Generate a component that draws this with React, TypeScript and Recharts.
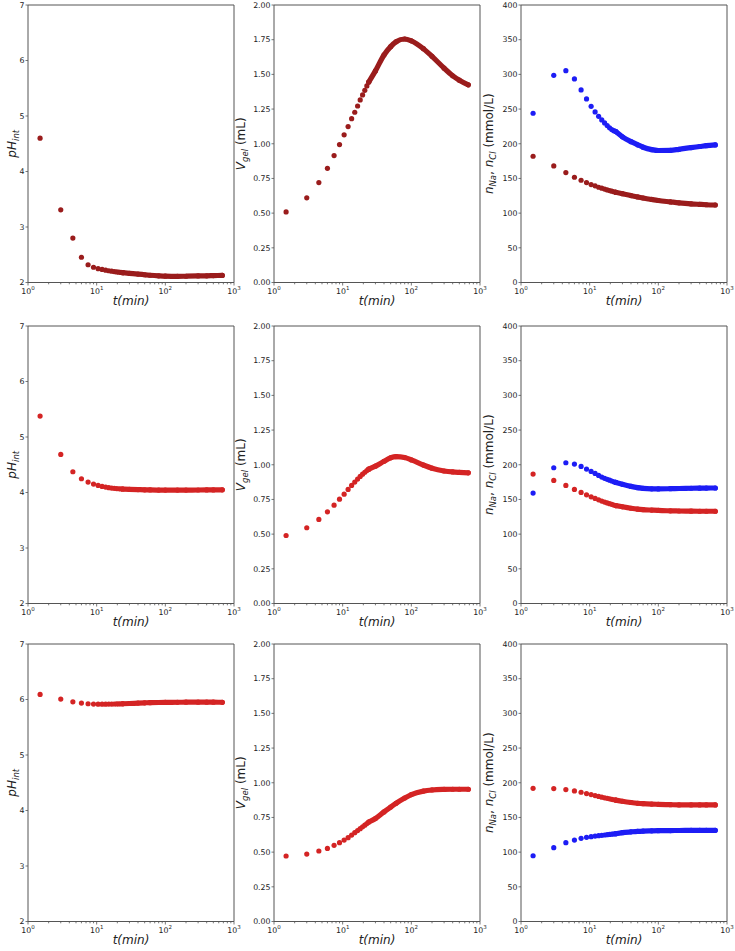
import { ScatterChart, Scatter, XAxis, YAxis, ReferenceArea } from 'recharts'

// sampling times (min): sparse early samples, then the dense tail read as a curve
const T_DOTS = [1.5, 3, 4.5, 6, 7.5, 9, 10.5, 12, 13.5, 15, 16.5, 18, 19.5, 21, 22.5, 24]
const T_CURVE = [24, 30, 40, 50, 60, 80, 100, 150, 200, 300, 400, 500, 675]

// row 1
const PH1_DOTS = [4.6, 3.31, 2.8, 2.455, 2.32, 2.275, 2.25, 2.235, 2.222, 2.212, 2.204, 2.197, 2.191, 2.186, 2.181, 2.177]
const PH1_CURVE = [2.177, 2.166, 2.152, 2.14, 2.131, 2.12, 2.114, 2.111, 2.113, 2.118, 2.121, 2.124, 2.128]
const V1_DOTS = [0.509, 0.61, 0.72, 0.823, 0.915, 0.994, 1.064, 1.124, 1.181, 1.227, 1.272, 1.316, 1.352, 1.385, 1.417, 1.445]
const V1_CURVE = [1.445, 1.525, 1.64, 1.7, 1.735, 1.755, 1.742, 1.685, 1.63, 1.545, 1.49, 1.458, 1.425]
const NA1_DOTS = [244, 298.7, 305.4, 293.4, 277.6, 264.6, 254, 245.9, 239.6, 234.3, 230, 226.2, 223, 220.5, 218.8, 217.5]
const NA1_CURVE = [217.5, 210, 203, 198.5, 195, 191.5, 190.3, 190.5, 192, 194.5, 196, 197.2, 198.3]
const CL1_DOTS = [182, 168, 158.5, 151.7, 147.4, 144, 141.2, 139.3, 137.3, 135.9, 134.6, 133.5, 132.5, 131.6, 130.8, 130.1]
const CL1_CURVE = [130.1, 128, 125.3, 123.3, 121.8, 119.7, 118.2, 116.2, 114.8, 113.3, 112.6, 112.1, 111.7]

// row 2
const PH2_DOTS = [5.377, 4.686, 4.374, 4.248, 4.188, 4.151, 4.127, 4.11, 4.097, 4.087, 4.08, 4.075, 4.071, 4.068, 4.065, 4.063]
const PH2_CURVE = [4.063, 4.058, 4.052, 4.049, 4.046, 4.044, 4.043, 4.043, 4.044, 4.045, 4.046, 4.047, 4.048]
const V2_DOTS = [0.49, 0.546, 0.606, 0.661, 0.709, 0.752, 0.788, 0.822, 0.851, 0.875, 0.897, 0.916, 0.932, 0.946, 0.958, 0.968]
const V2_CURVE = [0.968, 0.99, 1.025, 1.05, 1.058, 1.052, 1.035, 0.998, 0.975, 0.955, 0.948, 0.945, 0.942]
const NA2_DOTS = [159.1, 195.7, 202.9, 201, 197.6, 193.8, 190.4, 187.5, 184.6, 182.2, 180.5, 179, 177.8, 176.6, 175.5, 174.5]
const NA2_CURVE = [174.5, 171.8, 168.8, 167, 166, 165.3, 165.2, 165.5, 165.8, 166.1, 166.3, 166.4, 166.5]
const CL2_DOTS = [186.5, 177.4, 170.2, 164.4, 160.1, 156.7, 153.8, 151.4, 149.5, 147.6, 146.2, 145, 143.9, 142.9, 142, 141.2]
const CL2_CURVE = [141.2, 139.4, 137.3, 136, 135.3, 134.6, 134.1, 133.6, 133.3, 133.1, 133, 133, 133]

// row 3
const PH3_DOTS = [6.091, 6.007, 5.959, 5.935, 5.923, 5.918, 5.916, 5.916, 5.916, 5.917, 5.918, 5.919, 5.92, 5.921, 5.922, 5.923]
const PH3_CURVE = [5.923, 5.928, 5.935, 5.94, 5.943, 5.946, 5.948, 5.95, 5.951, 5.951, 5.951, 5.951, 5.95]
const V3_DOTS = [0.472, 0.486, 0.508, 0.527, 0.549, 0.568, 0.587, 0.604, 0.623, 0.64, 0.655, 0.669, 0.682, 0.694, 0.706, 0.717]
const V3_CURVE = [0.717, 0.742, 0.79, 0.825, 0.852, 0.89, 0.915, 0.94, 0.948, 0.952, 0.953, 0.953, 0.953]
const CL3_DOTS = [192, 191.6, 190.1, 188.2, 186.3, 184.4, 182.9, 181.5, 180.3, 179.2, 178.3, 177.5, 176.8, 176.1, 175.5, 175]
const CL3_CURVE = [175, 173.3, 171.5, 170.4, 169.8, 169.2, 168.9, 168.4, 168.1, 168, 168, 168, 168]
const NA3_DOTS = [94.8, 106.4, 113.6, 117.4, 119.9, 121.3, 122.3, 123.2, 123.7, 124.2, 124.7, 125.1, 125.5, 125.9, 126.2, 126.5]
const NA3_CURVE = [126.5, 128, 129.2, 130, 130.4, 130.7, 130.9, 131.1, 131.2, 131.3, 131.4, 131.4, 131.4]

const X_MAJOR = [1, 10, 100, 1000]
const X_TICKS = [...X_MAJOR, ...[1, 10, 100].flatMap(d => [2, 3, 4, 5, 6, 7, 8, 9].map(k => k * d))].sort((a, b) => a - b)
const PH_TICKS = [2, 3, 4, 5, 6, 7]
const V_TICKS = [0, 0.25, 0.5, 0.75, 1, 1.25, 1.5, 1.75, 2]
const N_TICKS = [0, 50, 100, 150, 200, 250, 300, 350, 400]

const DARK_RED = '#9a1c1c'
const RED = '#d42424'
const BLUE = '#1d1df5'
const AXIS = '#555'
const INK = '#222'
const FONT = '"DejaVu Sans", sans-serif'

// plot-area geometry
const COL_X = [28, 274, 521]
const ROW_Y = [5, 326, 644]
const PW = 206
const PH = 277.5
const YW = 44
const MT = 4
const MR = 12
const XH = 30

const toPts = (ts: number[], vs: number[]) => ts.map((t, i) => ({ t, v: vs[i] }))

const dot = (color: string) => (p: any) => <circle cx={p.cx} cy={p.cy} r={2.6} fill={color} />

function XTick({ x, y, payload }: any) {
  const v = payload.value
  const major = X_MAJOR.includes(v)
  return (
    <g>
      <line x1={x} x2={x} y1={y} y2={y + (major ? 3 : 1.8)} stroke={AXIS} strokeWidth={0.8} />
      {major && (
        <text x={x} y={y + 11} textAnchor="middle" fontFamily={FONT} fontSize={7.8} fill={INK}>
          10<tspan fontSize={5.5} dy={-3.5}>{Math.round(Math.log10(v))}</tspan>
        </text>
      )}
    </g>
  )
}

const makeYTick = (fmt: (v: number) => string) => ({ x, y, payload }: any) => (
  <g>
    <line x1={x - 2.5} x2={x} y1={y} y2={y} stroke={AXIS} strokeWidth={0.8} />
    <text x={x - 3.5} y={y} dy="0.36em" textAnchor="end" fontFamily={FONT} fontSize={7.8} fill={INK}>
      {fmt(payload.value)}
    </text>
  </g>
)

function XLabel({ viewBox }: any) {
  return (
    <text x={viewBox.x + viewBox.width / 2} y={viewBox.y + 22.5} textAnchor="middle"
      fontFamily={FONT} fontStyle="italic" fontSize={12} fill={INK}>
      t(min)
    </text>
  )
}

// gap = distance from the left spine to the label's baseline
function YLabel({ viewBox, gap, kind }: any) {
  const cx = viewBox.x + viewBox.width - gap
  const cy = viewBox.y + viewBox.height / 2
  const sub = { fontStyle: 'italic', fontSize: 8.5 } as const
  let body
  if (kind === 'ph') {
    body = <><tspan fontStyle="italic">pH</tspan><tspan {...sub} dy={2.5}>int</tspan></>
  } else if (kind === 'v') {
    body = <><tspan fontStyle="italic">V</tspan><tspan {...sub} dy={2.5}>gel</tspan><tspan dy={-2.5}>{'\u00a0(mL)'}</tspan></>
  } else {
    body = (
      <>
        <tspan fontStyle="italic">n</tspan><tspan {...sub} dy={2.5}>Na</tspan>
        <tspan dy={-2.5}>,</tspan><tspan fontStyle="italic">{'\u00a0n'}</tspan>
        <tspan {...sub} dy={2.5}>Cl</tspan><tspan dy={-2.5}>{'\u00a0(mmol/L)'}</tspan>
      </>
    )
  }
  return (
    <text transform={`rotate(-90 ${cx} ${cy})`} x={cx} y={cy} textAnchor="middle"
      fontFamily={FONT} fontSize={12} fill={INK}>
      {body}
    </text>
  )
}

type Series = { color: string; dots: number[]; curve: number[] }

type PanelProps = {
  col: number
  row: number
  domain: [number, number]
  ticks: number[]
  fmt: (v: number) => string
  kind: string
  gap: number
  series: Series[]
}

function Panel({ col, row, domain, ticks, fmt, kind, gap, series }: PanelProps) {
  return (
    <div style={{ position: 'absolute', left: COL_X[col] - YW, top: ROW_Y[row] - MT }}>
      <ScatterChart width={YW + PW + MR} height={MT + PH + XH} margin={{ top: MT, right: MR, bottom: 0, left: 0 }}>
        <XAxis dataKey="t" type="number" scale="log" domain={[1, 1000]} allowDataOverflow
          ticks={X_TICKS} interval={0} tick={XTick} tickSize={0} tickMargin={0} tickLine={false}
          axisLine={false} height={XH} label={<XLabel />} />
        <YAxis dataKey="v" type="number" domain={domain} allowDataOverflow ticks={ticks} interval={0}
          tick={makeYTick(fmt)} tickSize={0} tickMargin={0} tickLine={false} axisLine={false} width={YW}
          label={<YLabel gap={gap} kind={kind} />} />
        <ReferenceArea x1={1} x2={1000} y1={domain[0]} y2={domain[1]} fill="none" fillOpacity={0}
          stroke={AXIS} strokeWidth={1} />
        {series.map((s, i) => [
          <Scatter key={`d${i}`} data={toPts(T_DOTS, s.dots)} fill={s.color} shape={dot(s.color)}
            isAnimationActive={false} />,
          <Scatter key={`c${i}`} data={toPts(T_CURVE, s.curve)} fill={s.color} shape={dot(s.color)}
            line={{ stroke: s.color, strokeWidth: 5.2, strokeLinecap: 'round', strokeLinejoin: 'round' }}
            lineJointType="monotoneX" isAnimationActive={false} />,
        ])}
      </ScatterChart>
    </div>
  )
}

const fmtInt = (v: number) => String(v)
const fmt2 = (v: number) => v.toFixed(2)

export default function App() {
  const rows = [
    { color: DARK_RED, ph: [PH1_DOTS, PH1_CURVE], v: [V1_DOTS, V1_CURVE], n: [[NA1_DOTS, NA1_CURVE, BLUE], [CL1_DOTS, CL1_CURVE, DARK_RED]] },
    { color: RED, ph: [PH2_DOTS, PH2_CURVE], v: [V2_DOTS, V2_CURVE], n: [[NA2_DOTS, NA2_CURVE, BLUE], [CL2_DOTS, CL2_CURVE, RED]] },
    { color: RED, ph: [PH3_DOTS, PH3_CURVE], v: [V3_DOTS, V3_CURVE], n: [[NA3_DOTS, NA3_CURVE, BLUE], [CL3_DOTS, CL3_CURVE, RED]] },
  ] as any[]

  return (
    <div style={{ position: 'absolute', left: 0, top: 0, width: 735, height: 951, background: '#fff', overflow: 'hidden' }}>
      {rows.map((r, row) => (
        <div key={row}>
          <Panel col={0} row={row} domain={[2, 7]} ticks={PH_TICKS} fmt={fmtInt} kind="ph" gap={12}
            series={[{ color: r.color, dots: r.ph[0], curve: r.ph[1] }]} />
          <Panel col={1} row={row} domain={[0, 2]} ticks={V_TICKS} fmt={fmt2} kind="v" gap={29}
            series={[{ color: r.color, dots: r.v[0], curve: r.v[1] }]} />
          <Panel col={2} row={row} domain={[0, 400]} ticks={N_TICKS} fmt={fmtInt} kind="n" gap={28}
            series={r.n.map((s: any) => ({ dots: s[0], curve: s[1], color: s[2] }))} />
        </div>
      ))}
    </div>
  )
}
